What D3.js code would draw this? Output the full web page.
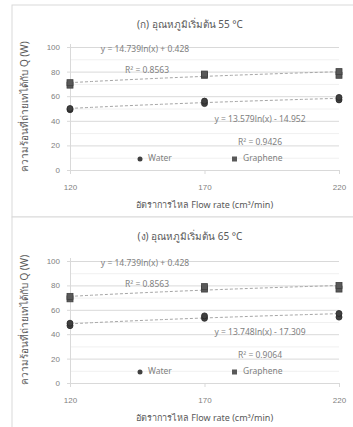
<!DOCTYPE html>
<html>
<head>
<meta charset="utf-8">
<script src="https://cdn.jsdelivr.net/npm/d3@7"></script>
<style>
  html, body { margin: 0; padding: 0; background: #fff; }
  svg { display: block; font-family: "Noto Sans", "DejaVu Sans", sans-serif; }
</style>
</head>
<body>
<svg id="chart" width="353" height="427"></svg>
<script>
// ---- data ----
const flowRates = [120, 170, 220];
const yTicks = [0, 20, 40, 60, 80, 100];
const panelTitles = ["(ก) อุณหภูมิเริ่มต้น 55 °C", "(ง) อุณหภูมิเริ่มต้น 65 °C"];
const yAxisTitle = "ความร้อนที่ถ่ายเทได้กับ Q (W)";
const xAxisTitle = "อัตราการไหล Flow rate (cm³/min)";
const legendNames = ["Water", "Graphene"];

// measured points [flow rate, Q]
const water55 = [[120, 49], [120, 50], [170, 54], [170, 56], [220, 57], [220, 59]];
const graphene55 = [[120, 69], [120, 71], [170, 77], [170, 78], [220, 77], [220, 80]];
const water65 = [[120, 47], [120, 49], [170, 53], [170, 55], [220, 54], [220, 57]];
const graphene65 = [[120, 69], [120, 71], [170, 77], [170, 79], [220, 77], [220, 80]];

// logarithmic trendlines: [a, b] for y = a ln(x) + b
const waterFit55 = [13.579, -14.952];
const grapheneFit55 = [14.739, 0.428];
const waterFit65 = [13.748, -17.309];
const grapheneFit65 = [14.739, 0.428];
const waterLabels55 = ["y = 13.579ln(x) - 14.952", "R² = 0.9426"];
const grapheneLabels55 = ["y = 14.739ln(x) + 0.428", "R² = 0.8563"];
const waterLabels65 = ["y = 13.748ln(x) - 17.309", "R² = 0.9064"];
const grapheneLabels65 = ["y = 14.739ln(x) + 0.428", "R² = 0.8563"];

// ---- drawing ----
const svg = d3.select("#chart");
const textColor = "#595959";
const lightText = "#7f7f7f";

const panels = [
  { top: 5, h: 212, y0: 170, y100: 47, title: panelTitles[0],
    water: water55, graphene: graphene55, wFit: waterFit55, gFit: grapheneFit55,
    wLab: waterLabels55, gLab: grapheneLabels55 },
  { top: 217, h: 215, y0: 383, y100: 261, title: panelTitles[1],
    water: water65, graphene: graphene65, wFit: waterFit65, gFit: grapheneFit65,
    wLab: waterLabels65, gLab: grapheneLabels65 }
];

panels.forEach(p => {
  const g = svg.append("g");
  g.append("rect").attr("x", 12).attr("y", p.top).attr("width", 360).attr("height", p.h)
    .attr("fill", "#fff").attr("stroke", "#d9d9d9").attr("stroke-width", 1);

  const x = d3.scaleLinear().domain([120, 220]).range([70, 339]);
  const y = d3.scaleLinear().domain([0, 100]).range([p.y0, p.y100]);

  // minor gridlines
  g.append("g").selectAll("line").data(d3.range(10, 100, 20)).join("line")
    .attr("x1", x(120)).attr("x2", x(220))
    .attr("y1", d => y(d) + 0.5).attr("y2", d => y(d) + 0.5)
    .attr("stroke", "#f0f0f0");

  // y axis with gridlines
  const yAxis = d3.axisLeft(y).tickValues(yTicks).tickSize(-(x(220) - x(120))).tickPadding(10);
  const ya = g.append("g").attr("transform", `translate(${x(120)},0)`).call(yAxis);
  ya.select(".domain").remove();
  ya.selectAll(".tick line").attr("stroke", "#d9d9d9").attr("x1", -3);
  ya.selectAll(".tick text").attr("fill", lightText).style("font-size", "8px");

  // left axis line
  g.append("line").attr("x1", x(120) + 0.5).attr("x2", x(120) + 0.5)
    .attr("y1", y(100) - 3).attr("y2", y(0) + 4).attr("stroke", "#d9d9d9");

  // x axis
  const xAxis = d3.axisBottom(x).tickValues(flowRates).tickSize(4).tickPadding(10);
  const xa = g.append("g").attr("transform", `translate(0,${y(0)})`).call(xAxis);
  xa.select(".domain").attr("stroke", "#d9d9d9");
  xa.selectAll(".tick line").attr("stroke", "#d9d9d9");
  xa.selectAll(".tick text").attr("fill", lightText).style("font-size", "8px");

  // trendlines
  const xs = d3.range(120, 220.01, 2);
  const line = d3.line().x(d => x(d[0])).y(d => y(d[1]));
  [p.gFit, p.wFit].forEach(f => {
    g.append("path").datum(xs.map(v => [v, f[0] * Math.log(v) + f[1]]))
      .attr("d", line).attr("fill", "none")
      .attr("stroke", "#a6a6a6").attr("stroke-width", 1).attr("stroke-dasharray", "3,2");
  });

  // points
  g.append("g").selectAll("rect").data(p.graphene).join("rect")
    .attr("x", d => x(d[0]) - 3).attr("y", d => y(d[1]) - 3)
    .attr("width", 6).attr("height", 6)
    .attr("fill", "#595959").attr("stroke", "#404040").attr("stroke-width", 0.8);
  g.append("g").selectAll("circle").data(p.water).join("circle")
    .attr("cx", d => x(d[0])).attr("cy", d => y(d[1])).attr("r", 3)
    .attr("fill", "#404040").attr("stroke", "#262626").attr("stroke-width", 0.8);

  // equation labels
  const lab = (t, cx, cy) => g.append("text").attr("x", cx).attr("y", cy)
    .attr("text-anchor", "middle").attr("dominant-baseline", "middle")
    .attr("fill", lightText).style("font-size", "8.5px").text(t);
  lab(p.gLab[0], 145, y(98));
  lab(p.gLab[1], 147, y(80.5));
  lab(p.wLab[0], 260, y(41));
  lab(p.wLab[1], 260, y(22.5));

  // title
  g.append("text").attr("x", 190).attr("y", p.top + 20)
    .attr("text-anchor", "middle").attr("dominant-baseline", "middle")
    .attr("fill", textColor).style("font-size", "10px").text(p.title);

  // y axis title
  g.append("text").attr("transform", `translate(25,${(y(0) + y(100)) / 2 - 2}) rotate(-90)`)
    .attr("text-anchor", "middle").attr("dominant-baseline", "middle")
    .attr("fill", textColor).style("font-size", "10px").text(yAxisTitle);

  // x axis title
  g.append("text").attr("x", (x(120) + x(220)) / 2).attr("y", y(0) + 36)
    .attr("text-anchor", "middle").attr("dominant-baseline", "middle")
    .attr("fill", textColor).style("font-size", "9px").text(xAxisTitle);

  // legend
  const ly = y(0) - 11;
  g.append("circle").attr("cx", 140).attr("cy", ly).attr("r", 2.5).attr("fill", "#404040");
  g.append("text").attr("x", 148).attr("y", ly).attr("dominant-baseline", "middle")
    .attr("fill", lightText).style("font-size", "8.5px").text(legendNames[0]);
  g.append("rect").attr("x", 232).attr("y", ly - 2.5).attr("width", 5).attr("height", 5).attr("fill", "#595959");
  g.append("text").attr("x", 243).attr("y", ly).attr("dominant-baseline", "middle")
    .attr("fill", lightText).style("font-size", "8.5px").text(legendNames[1]);
});
</script>
</body>
</html>
